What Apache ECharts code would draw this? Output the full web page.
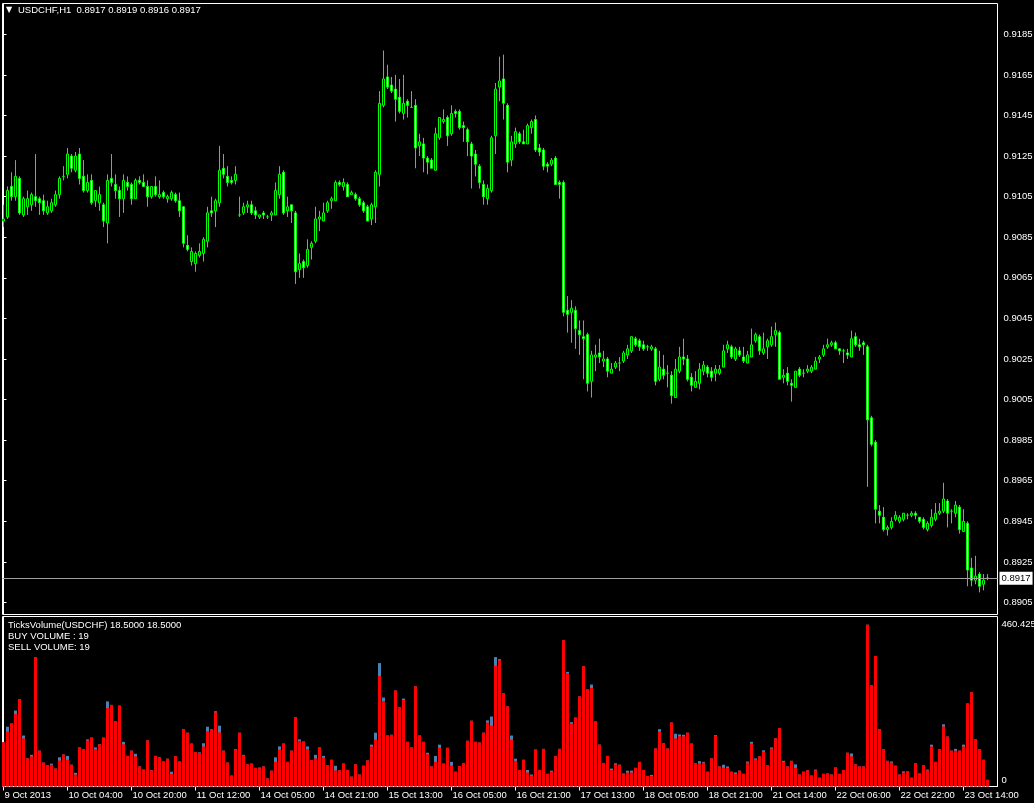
<!DOCTYPE html>
<html><head><meta charset="utf-8">
<script src="https://cdn.jsdelivr.net/npm/echarts@6/dist/echarts.min.js"></script>
<style>html,body{margin:0;padding:0;background:#000}#c{width:1034px;height:803px}</style>
</head><body><div id="c"></div>
<script>
const symbolName = 'USDCHF,H1';
const lastQuote = [0.8917, 0.8919, 0.8916, 0.8917];
const tickLabels = ['9 Oct 2013','10 Oct 04:00','10 Oct 20:00','11 Oct 12:00','14 Oct 05:00','14 Oct 21:00','15 Oct 13:00','16 Oct 05:00','16 Oct 21:00','17 Oct 13:00','18 Oct 05:00','18 Oct 21:00','21 Oct 14:00','22 Oct 06:00','22 Oct 22:00','23 Oct 14:00'];
const tickIndex = [0,16,32,48,64,80,96,112,128,144,160,176,192,208,224,240];
const priceTicks = [0.8905,0.8925,0.8945,0.8965,0.8985,0.9005,0.9025,0.9045,0.9065,0.9085,0.9105,0.9125,0.9145,0.9165,0.9185];
const volumeTicks = [0, 460.425];
// [open, close, low, high]
const candles = [
[0.9093,0.9094,0.9090,0.9101],[0.9095,0.9108,0.9094,0.9110],[0.9110,0.9105,0.9103,0.9117],[0.9105,0.9115,0.9103,0.9123],[0.9114,0.9097,0.9096,0.9115],
[0.9096,0.9104,0.9095,0.9105],[0.9100,0.9104,0.9096,0.9108],[0.9101,0.9106,0.9098,0.9107],[0.9105,0.9103,0.9100,0.9126],[0.9104,0.9102,0.9096,0.9105],
[0.9103,0.9098,0.9096,0.9106],[0.9097,0.9100,0.9096,0.9103],[0.9098,0.9102,0.9097,0.9104],[0.9101,0.9106,0.9100,0.9108],[0.9106,0.9114,0.9104,0.9115],
[0.9115,0.9115,0.9113,0.9120],[0.9116,0.9126,0.9114,0.9129],[0.9125,0.9119,0.9117,0.9126],[0.9118,0.9125,0.9117,0.9127],[0.9126,0.9114,0.9111,0.9129],
[0.9115,0.9108,0.9107,0.9123],[0.9108,0.9112,0.9107,0.9116],[0.9113,0.9102,0.9101,0.9116],[0.9103,0.9108,0.9100,0.9108],[0.9102,0.9106,0.9098,0.9110],
[0.9101,0.9093,0.9090,0.9102],[0.9092,0.9113,0.9082,0.9116],[0.9114,0.9112,0.9110,0.9126],[0.9111,0.9108,0.9104,0.9116],[0.9108,0.9104,0.9095,0.9110],
[0.9104,0.9113,0.9097,0.9116],[0.9112,0.9110,0.9108,0.9115],[0.9111,0.9104,0.9101,0.9112],[0.9104,0.9113,0.9104,0.9114],[0.9113,0.9112,0.9111,0.9115],
[0.9112,0.9110,0.9110,0.9116],[0.9110,0.9105,0.9100,0.9113],[0.9105,0.9110,0.9104,0.9110],[0.9110,0.9106,0.9105,0.9115],[0.9105,0.9106,0.9104,0.9113],
[0.9107,0.9105,0.9104,0.9108],[0.9104,0.9105,0.9102,0.9106],[0.9104,0.9107,0.9103,0.9108],[0.9106,0.9103,0.9102,0.9107],[0.9103,0.9098,0.9095,0.9107],
[0.9100,0.9082,0.9080,0.9100],[0.9081,0.9079,0.9078,0.9086],[0.9073,0.9078,0.9071,0.9080],[0.9072,0.9077,0.9068,0.9078],[0.9076,0.9078,0.9075,0.9082],
[0.9077,0.9084,0.9073,0.9085],[0.9083,0.9097,0.9080,0.9100],[0.9098,0.9097,0.9095,0.9105],[0.9098,0.9103,0.9090,0.9104],[0.9102,0.9118,0.9100,0.9130],
[0.9119,0.9116,0.9114,0.9126],[0.9115,0.9112,0.9110,0.9120],[0.9113,0.9112,0.9111,0.9115],[0.9113,0.9116,0.9111,0.9120],[0.9096,0.9096,0.9095,0.9105],
[0.9097,0.9100,0.9096,0.9102],[0.9100,0.9101,0.9097,0.9103],[0.9101,0.9097,0.9096,0.9103],[0.9098,0.9096,0.9094,0.9100],[0.9095,0.9096,0.9094,0.9096],
[0.9097,0.9096,0.9094,0.9098],[0.9095,0.9095,0.9094,0.9096],[0.9096,0.9097,0.9093,0.9098],[0.9096,0.9108,0.9096,0.9112],[0.9106,0.9116,0.9104,0.9120],
[0.9117,0.9097,0.9096,0.9118],[0.9098,0.9100,0.9095,0.9105],[0.9101,0.9098,0.9092,0.9101],[0.9097,0.9068,0.9062,0.9098],[0.9069,0.9072,0.9065,0.9077],
[0.9073,0.9070,0.9065,0.9074],[0.9071,0.9079,0.9070,0.9084],[0.9080,0.9082,0.9074,0.9083],[0.9083,0.9094,0.9082,0.9100],[0.9094,0.9095,0.9088,0.9098],
[0.9093,0.9097,0.9093,0.9102],[0.9098,0.9102,0.9097,0.9103],[0.9103,0.9104,0.9099,0.9105],[0.9103,0.9112,0.9103,0.9113],[0.9112,0.9111,0.9110,0.9113],
[0.9110,0.9112,0.9108,0.9114],[0.9111,0.9105,0.9105,0.9112],[0.9106,0.9107,0.9106,0.9108],[0.9106,0.9104,0.9103,0.9107],[0.9104,0.9101,0.9100,0.9105],
[0.9102,0.9098,0.9097,0.9103],[0.9100,0.9093,0.9093,0.9101],[0.9094,0.9101,0.9091,0.9102],[0.9100,0.9117,0.9092,0.9118],[0.9116,0.9151,0.9110,0.9157],
[0.9150,0.9163,0.9149,0.9177],[0.9164,0.9159,0.9158,0.9170],[0.9160,0.9157,0.9156,0.9164],[0.9158,0.9153,0.9142,0.9165],[0.9154,0.9147,0.9146,0.9163],
[0.9146,0.9151,0.9143,0.9165],[0.9152,0.9150,0.9144,0.9153],[0.9149,0.9149,0.9149,0.9157],[0.9150,0.9129,0.9119,0.9153],[0.9130,0.9132,0.9125,0.9136],
[0.9131,0.9124,0.9117,0.9134],[0.9124,0.9122,0.9116,0.9125],[0.9123,0.9119,0.9119,0.9124],[0.9118,0.9136,0.9118,0.9139],[0.9134,0.9144,0.9133,0.9144],
[0.9142,0.9143,0.9141,0.9148],[0.9144,0.9135,0.9130,0.9145],[0.9136,0.9146,0.9135,0.9150],[0.9147,0.9146,0.9144,0.9148],[0.9147,0.9139,0.9138,0.9148],
[0.9140,0.9139,0.9132,0.9142],[0.9138,0.9132,0.9125,0.9139],[0.9131,0.9125,0.9109,0.9132],[0.9126,0.9121,0.9115,0.9128],[0.9120,0.9112,0.9109,0.9121],
[0.9111,0.9105,0.9101,0.9113],[0.9104,0.9109,0.9101,0.9111],[0.9108,0.9134,0.9107,0.9135],[0.9135,0.9158,0.9126,0.9161],[0.9159,0.9162,0.9152,0.9174],
[0.9163,0.9151,0.9143,0.9175],[0.9150,0.9122,0.9117,0.9151],[0.9123,0.9132,0.9120,0.9135],[0.9131,0.9137,0.9129,0.9139],[0.9136,0.9132,0.9131,0.9137],
[0.9132,0.9131,0.9131,0.9138],[0.9131,0.9140,0.9131,0.9141],[0.9139,0.9142,0.9136,0.9143],[0.9143,0.9128,0.9127,0.9145],[0.9129,0.9127,0.9125,0.9131],
[0.9128,0.9120,0.9118,0.9129],[0.9121,0.9120,0.9117,0.9122],[0.9121,0.9123,0.9120,0.9124],[0.9124,0.9111,0.9111,0.9125],[0.9112,0.9111,0.9104,0.9113],
[0.9112,0.9048,0.9046,0.9113],[0.9049,0.9047,0.9038,0.9056],[0.9048,0.9050,0.9033,0.9054],[0.9049,0.9040,0.9030,0.9051],[0.9039,0.9037,0.9027,0.9044],
[0.9036,0.9035,0.9015,0.9044],[0.9037,0.9013,0.9009,0.9038],[0.9014,0.9027,0.9006,0.9029],[0.9026,0.9027,0.9019,0.9032],[0.9028,0.9026,0.9023,0.9035],
[0.9024,0.9025,0.9021,0.9029],[0.9025,0.9019,0.9016,0.9026],[0.9018,0.9020,0.9018,0.9023],[0.9021,0.9023,0.9020,0.9024],[0.9023,0.9023,0.9019,0.9026],
[0.9024,0.9028,0.9023,0.9029],[0.9027,0.9030,0.9025,0.9032],[0.9029,0.9036,0.9028,0.9036],[0.9035,0.9032,0.9031,0.9036],[0.9034,0.9031,0.9029,0.9035],
[0.9032,0.9030,0.9029,0.9034],[0.9031,0.9031,0.9029,0.9032],[0.9030,0.9031,0.9029,0.9032],[0.9030,0.9014,0.9012,0.9031],[0.9015,0.9021,0.9014,0.9029],
[0.9020,0.9017,0.9015,0.9027],[0.9018,0.9018,0.9011,0.9022],[0.9017,0.9007,0.9003,0.9019],[0.9006,0.9020,0.9006,0.9025],[0.9019,0.9026,0.9018,0.9031],
[0.9026,0.9025,0.9022,0.9035],[0.9025,0.9015,0.9014,0.9027],[0.9016,0.9012,0.9009,0.9018],[0.9011,0.9014,0.9011,0.9019],[0.9013,0.9020,0.9010,0.9023],
[0.9019,0.9022,0.9017,0.9024],[0.9021,0.9018,0.9016,0.9022],[0.9019,0.9016,0.9014,0.9021],[0.9018,0.9020,0.9014,0.9022],[0.9018,0.9020,0.9017,0.9022],
[0.9021,0.9029,0.9021,0.9032],[0.9030,0.9032,0.9028,0.9034],[0.9031,0.9026,0.9025,0.9032],[0.9025,0.9030,0.9024,0.9031],[0.9029,0.9027,0.9026,0.9031],
[0.9026,0.9024,0.9023,0.9031],[0.9023,0.9027,0.9023,0.9029],[0.9026,0.9032,0.9026,0.9040],[0.9034,0.9037,0.9033,0.9038],[0.9036,0.9029,0.9027,0.9037],
[0.9028,0.9030,0.9027,0.9038],[0.9031,0.9034,0.9025,0.9035],[0.9032,0.9036,0.9031,0.9041],[0.9037,0.9039,0.9031,0.9043],[0.9038,0.9015,0.9015,0.9039],
[0.9016,0.9017,0.9013,0.9020],[0.9018,0.9014,0.9012,0.9021],[0.9013,0.9012,0.9004,0.9015],[0.9011,0.9019,0.9011,0.9019],[0.9020,0.9017,0.9016,0.9021],
[0.9018,0.9018,0.9016,0.9020],[0.9019,0.9020,0.9018,0.9022],[0.9019,0.9021,0.9018,0.9022],[0.9020,0.9024,0.9020,0.9026],[0.9025,0.9026,0.9023,0.9027],
[0.9027,0.9030,0.9026,0.9032],[0.9031,0.9032,0.9030,0.9035],[0.9032,0.9033,0.9031,0.9034],[0.9033,0.9030,0.9030,0.9034],[0.9030,0.9029,0.9027,0.9030],
[0.9029,0.9029,0.9023,0.9030],[0.9028,0.9027,0.9025,0.9030],[0.9026,0.9035,0.9026,0.9039],[0.9036,0.9032,0.9031,0.9038],[0.9032,0.9031,0.9029,0.9035],
[0.9033,0.9032,0.9027,0.9034],[0.9031,0.8995,0.8962,0.9032],[0.8996,0.8983,0.8982,0.8997],[0.8984,0.8951,0.8944,0.8985],[0.8950,0.8948,0.8944,0.8953],
[0.8947,0.8941,0.8940,0.8952],[0.8941,0.8942,0.8938,0.8943],[0.8942,0.8945,0.8941,0.8947],[0.8946,0.8948,0.8945,0.8950],[0.8945,0.8947,0.8944,0.8948],
[0.8946,0.8949,0.8945,0.8949],[0.8948,0.8948,0.8946,0.8949],[0.8948,0.8949,0.8947,0.8950],[0.8949,0.8948,0.8946,0.8950],[0.8947,0.8945,0.8944,0.8947],
[0.8946,0.8942,0.8941,0.8947],[0.8941,0.8944,0.8940,0.8945],[0.8943,0.8947,0.8942,0.8951],[0.8946,0.8949,0.8945,0.8954],[0.8949,0.8950,0.8948,0.8954],
[0.8950,0.8956,0.8949,0.8964],[0.8955,0.8949,0.8942,0.8956],[0.8950,0.8950,0.8944,0.8951],[0.8949,0.8953,0.8947,0.8955],[0.8952,0.8941,0.8939,0.8953],
[0.8940,0.8945,0.8940,0.8951],[0.8944,0.8921,0.8913,0.8945],[0.8922,0.8916,0.8913,0.8927],[0.8916,0.8918,0.8914,0.8928],[0.8919,0.8913,0.8910,0.8920],
[0.8914,0.8916,0.8911,0.8919],[0.8917,0.8917,0.8916,0.8919]
];
const sellVolume = [
126,156,179,206,248,137,80,86,368,102,
68,61,62,51,74,91,76,62,34,111,
106,131,139,106,120,139,223,232,186,230,
120,87,102,86,57,48,131,46,87,83,
71,79,36,86,71,163,153,122,98,95,
114,157,163,211,154,102,68,31,104,153,
88,63,65,53,52,57,23,45,70,105,
122,70,102,197,130,128,106,75,80,111,
82,61,76,46,46,65,47,28,63,34,
59,74,114,133,314,243,145,147,273,225,
246,127,111,285,145,127,92,57,70,110,
65,110,59,42,58,67,130,187,127,125,
153,182,173,343,359,265,228,133,73,47,
76,40,31,105,47,107,36,42,86,107,
416,322,179,196,256,342,276,280,185,119,
67,87,47,63,62,35,40,40,53,70,
47,30,30,108,156,123,108,182,137,143,
143,153,122,66,66,68,42,80,144,57,
53,53,42,36,45,36,68,122,77,86,
99,60,108,137,166,70,57,73,53,34,
42,46,31,46,25,36,36,34,54,36,
47,96,86,63,57,57,460,288,371,163,
106,73,68,59,34,40,43,25,66,37,
60,46,114,70,106,171,142,102,102,102,
114,236,268,134,106,76,19
];
const buyVolume = [
126,170,179,216,248,145,80,90,368,102,
68,61,65,51,83,91,87,62,39,111,
106,134,139,111,120,139,242,232,186,230,
127,87,102,93,57,48,131,47,87,83,
71,79,42,86,71,163,153,122,98,97,
123,170,163,214,173,102,68,31,106,153,
90,63,65,53,54,57,23,45,83,114,
122,70,102,197,134,128,114,75,90,111,
87,61,76,59,46,65,47,28,63,34,
59,74,119,153,351,253,145,147,273,225,
250,127,111,285,145,127,96,57,87,119,
65,110,70,42,58,67,130,187,127,125,
153,188,199,368,362,265,228,145,79,47,
76,47,34,105,47,107,36,45,86,107,
416,326,183,196,256,342,276,290,185,119,
67,87,51,66,62,37,45,45,53,70,
47,30,33,108,163,123,108,182,150,148,
147,153,122,66,72,70,42,80,146,57,
62,57,42,40,45,36,71,127,80,86,
103,60,111,137,166,73,57,73,63,34,
42,46,31,48,25,36,37,34,54,36,
47,96,94,63,57,57,460,288,371,163,
106,73,71,59,34,43,43,25,66,37,
60,48,119,70,106,177,142,102,107,102,
119,236,268,134,106,76,19
];

const FONT = 'Liberation Sans';
const FS = 9.5;
const LIME = '#00ff00';
const chart = echarts.init(document.getElementById('c'), null, {renderer: 'canvas'});
const nLast = candles.length - 1;

const option = {
  backgroundColor: '#000',
  animation: false,
  textStyle: {fontFamily: FONT, fontSize: FS, color: '#fff', fontWeight: 'normal'},
  title: [
    {
      left: 6, top: 5, padding: 0,
      text: '{t|▼}{s|' + symbolName + '  ' + lastQuote.map(v => v.toFixed(4)).join(' ') + '}',
      textStyle: {fontWeight: 'normal', fontSize: FS, rich: {
        t: {fontSize: 8, width: 12, color: '#fff', fontFamily: 'DejaVu Sans', fontWeight: 'normal'},
        s: {fontSize: FS, color: '#fff', fontFamily: FONT, fontWeight: 'normal'}
      }}
    },
    {
      left: 8, top: 619.5, padding: 0,
      text: 'TicksVolume(USDCHF) 18.5000 18.5000\nBUY VOLUME : ' + buyVolume[nLast] + '\nSELL VOLUME: ' + sellVolume[nLast],
      textStyle: {fontSize: FS, fontWeight: 'normal', color: '#fff', fontFamily: FONT, lineHeight: 11}
    }
  ],
  grid: [
    {left: 2.5, top: 3.5, width: 995, height: 611, show: true, borderColor: '#fff', borderWidth: 1,
      backgroundColor: 'transparent', containLabel: false, outerBoundsMode: 'none'},
    {left: 2.5, top: 616.5, width: 995, height: 170, show: true, borderColor: '#fff', borderWidth: 1,
      backgroundColor: 'transparent', containLabel: false, outerBoundsMode: 'none'}
  ],
  xAxis: [
    {type: 'value', gridIndex: 0, min: -0.25, max: 248.5, show: false},
    {type: 'value', gridIndex: 1, min: -0.25, max: 248.5,
      axisLine: {show: true, lineStyle: {color: '#fff'}},
      axisTick: {show: true, customValues: tickIndex, length: 4, lineStyle: {color: '#fff'}},
      axisLabel: {show: true, customValues: tickIndex, align: 'left', margin: 3.5, color: '#fff',
        fontSize: FS, fontFamily: FONT, padding: [0, 0, 0, 1], hideOverlap: false,
        formatter: v => tickLabels[tickIndex.indexOf(v)]},
      splitLine: {show: false}
    }
  ],
  yAxis: [
    {type: 'value', gridIndex: 0, position: 'right', min: 0.889909, max: 0.920018,
      axisLine: {show: true, lineStyle: {color: '#fff'}},
      axisTick: {show: true, customValues: priceTicks, length: 3, lineStyle: {color: '#fff'}},
      axisLabel: {show: true, customValues: priceTicks, margin: 6, color: '#fff', fontSize: FS, fontFamily: FONT,
        formatter: v => v.toFixed(4)},
      splitLine: {show: false}
    },
    {type: 'value', gridIndex: 1, position: 'right', min: 0, max: 483.4,
      axisLine: {show: true, lineStyle: {color: '#fff'}},
      axisTick: {show: false},
      axisLabel: {show: true, customValues: volumeTicks, margin: 4, color: '#fff', fontSize: FS, fontFamily: FONT,
        formatter: v => v === 0 ? '{z|0}' : '{m|' + v + '}',
        rich: {z: {padding: [0, 0, 12, 0], fontSize: FS, color: '#fff'}, m: {padding: [0, 0, 0, 0], fontSize: FS, color: '#fff'}}},
      splitLine: {show: false}
    }
  ],
  series: [
    {
      type: 'candlestick', xAxisIndex: 0, yAxisIndex: 0,
      data: candles.map((c, i) => [i, c[0], c[1], c[2], c[3]]),
      encode: {x: 0, y: [1, 2, 3, 4]},
      barWidth: 2,
      itemStyle: {color: '#000', color0: '#fff', borderColor: LIME, borderColor0: LIME, borderColorDoji: LIME, borderWidth: 1},
      emphasis: {disabled: true}
    },
    {
      type: 'line', xAxisIndex: 0, yAxisIndex: 0, name: 'last',
      data: [[nLast, lastQuote[3]]],
      showSymbol: false, symbolSize: 0, lineStyle: {opacity: 0}, silent: true,
      markLine: {
        silent: true, symbol: ['none', 'none'], animation: false, precision: 4,
        data: [{yAxis: lastQuote[3]}],
        lineStyle: {color: '#a0a0a0', width: 1, type: 'solid'},
        label: {show: true, position: 'end', distance: 2, formatter: lastQuote[3].toFixed(4),
          color: '#000', backgroundColor: '#fff', padding: [2, 2, 1, 2], fontSize: FS, fontFamily: FONT},
        emphasis: {disabled: true}
      }
    },
    {
      type: 'bar', xAxisIndex: 1, yAxisIndex: 1, name: 'buy',
      data: buyVolume.map((v, i) => [i, v]),
      barWidth: 3, itemStyle: {color: '#4682b4'}, emphasis: {disabled: true}
    },
    {
      type: 'bar', xAxisIndex: 1, yAxisIndex: 1, name: 'sell',
      data: sellVolume.map((v, i) => [i, v]),
      barWidth: 3, barGap: '-100%', itemStyle: {color: '#ff0000'}, emphasis: {disabled: true}
    }
  ]
};
chart.setOption(option);
</script>
</body></html>
